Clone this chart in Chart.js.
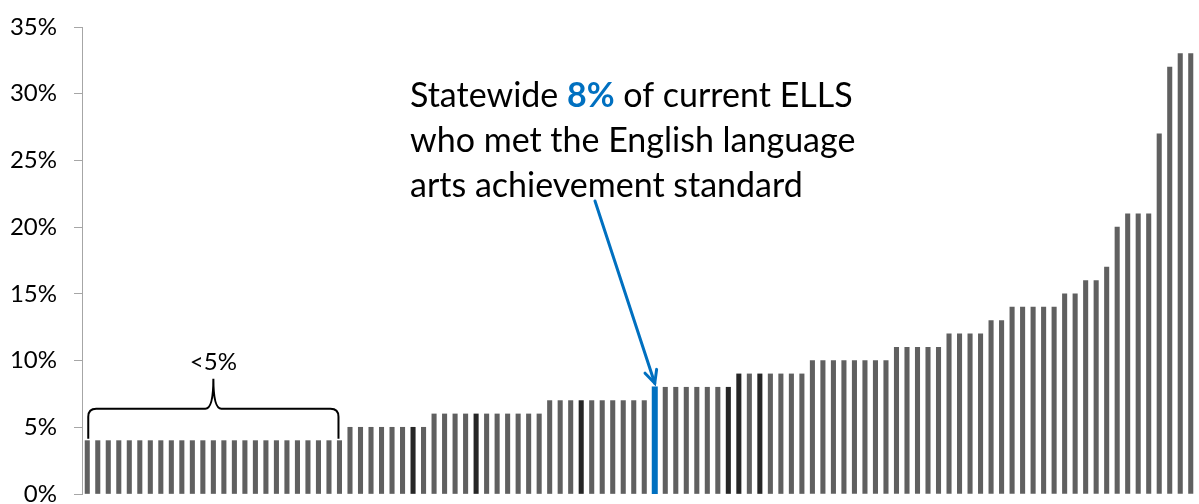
<!DOCTYPE html>
<html>
<head>
<meta charset="utf-8">
<script src="https://cdn.jsdelivr.net/npm/chart.js@4.4.1/dist/chart.umd.min.js"></script>
<style>
  html, body { margin: 0; padding: 0; background: #fff; }
  #wrap { width: 1199px; height: 504px; }
</style>
</head>
<body>
<div id="wrap"><canvas id="elChart" width="1199" height="504"></canvas></div>
<script>
// share of current ELLs meeting the ELA standard, one bar per district (sorted)
const shares = [
  4, 4, 4, 4, 4, 4, 4, 4, 4, 4, 4, 4, 4, 4, 4, 4, 4, 4, 4, 4, 4, 4, 4, 4, 4,
  5, 5, 5, 5, 5, 5, 5, 5,
  6, 6, 6, 6, 6, 6, 6, 6, 6, 6, 6,
  7, 7, 7, 7, 7, 7, 7, 7, 7, 7,
  8,
  8, 8, 8, 8, 8, 8, 8,
  9, 9, 9, 9, 9, 9, 9,
  10, 10, 10, 10, 10, 10, 10, 10,
  11, 11, 11, 11, 11,
  12, 12, 12, 12,
  13, 13,
  14, 14, 14, 14, 14,
  15, 15,
  16, 16,
  17,
  20,
  21, 21, 21,
  27,
  32,
  33, 33
];
const categories = shares.map((_, i) => 'D' + (i + 1));
const statewideIndex = 54;
const darkIndexes = [31, 37, 47, 61, 62, 64];
const yTicks = [0, 5, 10, 15, 20, 25, 30, 35];
const calloutLines = [
  ['Statewide ', '8%', ' of current ELLS'],
  ['who met the English language'],
  ['arts achievement standard']
];
const braceLabel = '<5%';
const braceFrom = 0;
const braceTo = 24;

const GRAY = '#606060';
const DARK = '#262626';
const BLUE = '#0070C0';
const FONT = 'Lato, "Open Sans", sans-serif';

const barColors = shares.map((v, i) => {
  if (i === statewideIndex) return BLUE;
  if (darkIndexes.includes(i)) return DARK;
  return GRAY;
});

// draws the callout text, arrow and brace on top of the bars
const annotations = {
  id: 'annotations',
  afterDatasetsDraw(chart) {
    const ctx = chart.ctx;
    const x = chart.scales.x;
    const y = chart.scales.y;
    ctx.save();

    // callout text
    ctx.textBaseline = 'alphabetic';
    ctx.textAlign = 'left';
    const tx = 410;
    let ty = 107;
    calloutLines.forEach(parts => {
      let cx = tx;
      parts.forEach(p => {
        const bold = p === '8%';
        ctx.font = (bold ? 'bold ' : '') + '34px ' + FONT;
        ctx.fillStyle = bold ? BLUE : '#000';
        ctx.fillText(p, cx, ty);
        cx += ctx.measureText(p).width;
      });
      ty += 45;
    });

    // arrow to the statewide bar
    const ax = x.getPixelForValue(statewideIndex);
    const ay = y.getPixelForValue(shares[statewideIndex]) - 4;
    const sx = 595, sy = 201;
    ctx.strokeStyle = BLUE;
    ctx.lineWidth = 3;
    ctx.lineCap = 'round';
    ctx.beginPath();
    ctx.moveTo(sx, sy);
    ctx.lineTo(ax, ay);
    ctx.stroke();
    const ang = Math.atan2(ay - sy, ax - sx);
    const head = 14;
    ctx.beginPath();
    ctx.moveTo(ax - head * Math.cos(ang - 0.45), ay - head * Math.sin(ang - 0.45));
    ctx.lineTo(ax, ay);
    ctx.lineTo(ax - head * Math.cos(ang + 0.45), ay - head * Math.sin(ang + 0.45));
    ctx.stroke();

    // brace over the lowest group
    const bx0 = x.getPixelForValue(braceFrom) + 1;
    const bx1 = x.getPixelForValue(braceTo) - 1;
    const bmid = (bx0 + bx1) / 2;
    const bBottom = y.getPixelForValue(shares[braceFrom]) - 2;
    const bLine = bBottom - 30;
    const bTip = bLine - 30;
    const r = 8;
    ctx.strokeStyle = '#000';
    ctx.lineWidth = 2;
    ctx.lineCap = 'butt';
    ctx.beginPath();
    ctx.moveTo(bx0, bBottom);
    ctx.lineTo(bx0, bLine + r);
    ctx.quadraticCurveTo(bx0, bLine, bx0 + r, bLine);
    ctx.lineTo(bmid - r, bLine);
    ctx.quadraticCurveTo(bmid, bLine, bmid, bTip);
    ctx.quadraticCurveTo(bmid, bLine, bmid + r, bLine);
    ctx.lineTo(bx1 - r, bLine);
    ctx.quadraticCurveTo(bx1, bLine, bx1, bLine + r);
    ctx.lineTo(bx1, bBottom);
    ctx.stroke();

    ctx.font = '24px ' + FONT;
    ctx.fillStyle = '#000';
    ctx.textAlign = 'center';
    ctx.fillText(braceLabel, bmid, bTip - 9);
    ctx.restore();
  }
};

new Chart(document.getElementById('elChart').getContext('2d'), {
  type: 'bar',
  data: {
    labels: categories,
    datasets: [{
      data: shares,
      backgroundColor: barColors,
      borderWidth: 0,
      barPercentage: 0.42,
      categoryPercentage: 1,
      inflateAmount: ctx => ctx.dataIndex === statewideIndex ? 0.8 : 0.33
    }]
  },
  options: {
    responsive: false,
    animation: false,
    layout: { padding: { top: 27, right: 3, bottom: 10, left: 0 } },
    plugins: {
      legend: { display: false },
      tooltip: { enabled: false }
    },
    scales: {
      x: { display: false },
      y: {
        min: 0,
        max: 35,
        afterBuildTicks: s => { s.ticks = yTicks.map(v => ({ value: v })); },
        afterFit: s => { s.width = 82; s.paddingTop = 0; s.paddingBottom = 0; },
        ticks: {
          color: '#000',
          font: { family: FONT, size: 24 },
          padding: 17,
          callback: v => v + '%'
        },
        grid: {
          drawOnChartArea: false,
          drawTicks: true,
          tickLength: 8,
          color: '#a6a6a6'
        },
        border: { display: true, color: '#a6a6a6', width: 1 }
      }
    }
  },
  plugins: [annotations]
});
</script>
</body>
</html>
